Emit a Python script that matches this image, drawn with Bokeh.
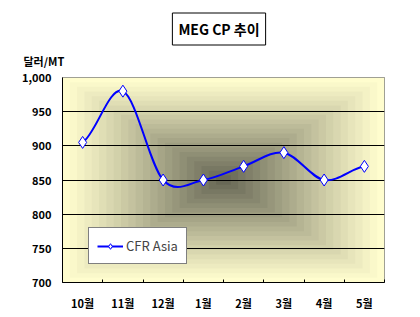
from bokeh.plotting import figure
from bokeh.models import (FixedTicker, NumeralTickFormatter, Label,
                          Legend, LegendItem, Range1d)
from bokeh.embed import file_html
from bokeh.resources import INLINE

# ---- data ----
months = ["10월", "11월", "12월", "1월", "2월", "3월", "4월", "5월"]
cfr_asia = [905, 980, 850, 850, 870, 890, 850, 870]
y_ticks = [700, 750, 800, 850, 900, 950, 1000]
grid_ticks = [750, 800, 850, 900, 950]
title_text = "MEG CP 추이"
unit_text = "달러/MT"
series_name = "CFR Asia"

FONT = "Noto Sans CJK KR"
W, H = 420, 317
FL, FR, FT, FB = 62, 384, 77, 282  # frame edges (canvas px)

n = len(months)
xs = [i + 0.5 for i in range(n)]

p = figure(width=W, height=H, output_backend="svg", toolbar_location=None,
           x_range=Range1d(0, n), y_range=Range1d(700, 1000),
           min_border_left=FL, min_border_right=W - FR,
           min_border_top=FT, min_border_bottom=H - FB,
           title=None)
p.background_fill_color = "#FFFDCC"
p.border_fill_color = "white"
p.outline_line_color = "#808080"
p.outline_line_width = 1
p.styles = {"outline": "1px solid black", "outline-offset": "-5px"}

# ---- rectangular "from centre" gradient background ----
edge = (255, 253, 206)
centre = (104, 104, 86)
N = 22
lefts, rights, tops, bottoms, cols = [], [], [], [], []
cx, cy = n / 2, 850
hw, hh = n / 2, 150
for k in range(N):
    f = 1 - k / N
    t = (k / (N - 1)) ** 1.1
    c = tuple(int(round(edge[j] + (centre[j] - edge[j]) * t)) for j in range(3))
    lefts.append(cx - hw * f); rights.append(cx + hw * f)
    bottoms.append(cy - hh * f); tops.append(cy + hh * f)
    cols.append("#%02x%02x%02x" % c)
p.quad(left=lefts, right=rights, top=tops, bottom=bottoms, fill_color=cols,
       line_color=None, level="image")

# ---- grid ----
p.xgrid.visible = False
p.ygrid.ticker = FixedTicker(ticks=grid_ticks)
p.ygrid.grid_line_color = "black"
p.ygrid.grid_line_width = 1

# ---- smooth line (Catmull-Rom style bezier through the data) ----
x0s, y0s, x1s, y1s, cx0s, cy0s, cx1s, cy1s = [], [], [], [], [], [], [], []
for i in range(n - 1):
    vp = cfr_asia[i - 1] if i > 0 else cfr_asia[i]
    vn = cfr_asia[i + 2] if i + 2 < n else cfr_asia[i + 1]
    x0s.append(xs[i]); y0s.append(cfr_asia[i])
    x1s.append(xs[i + 1]); y1s.append(cfr_asia[i + 1])
    cx0s.append(xs[i] + 1 / 3); cy0s.append(cfr_asia[i] + (cfr_asia[i + 1] - vp) / 6)
    cx1s.append(xs[i + 1] - 1 / 3); cy1s.append(cfr_asia[i + 1] - (vn - cfr_asia[i]) / 6)
curve = p.bezier(x0=x0s, y0=y0s, x1=x1s, y1=y1s, cx0=cx0s, cy0=cy0s, cx1=cx1s, cy1=cy1s,
                 line_color="#0000FF", line_width=2)
pts = p.scatter(xs, cfr_asia, marker="diamond", size=12, fill_color="white",
                line_color="#0000FF", line_width=1)

# ---- axes ----
xa = p.xaxis[0]
xa.ticker = FixedTicker(ticks=xs, minor_ticks=list(range(n + 1)))
xa.major_label_overrides = {x: m for x, m in zip(xs, months)}
xa.major_tick_line_color = None
xa.major_tick_in = 0
xa.major_tick_out = 0
xa.minor_tick_in = 3
xa.minor_tick_out = 0
xa.minor_tick_line_color = "black"
xa.axis_line_color = "black"
xa.major_label_standoff = 12
xa.major_label_text_font = FONT
xa.major_label_text_font_style = "bold"
xa.major_label_text_font_size = "11px"
xa.major_label_text_color = "black"

ya = p.yaxis[0]
ya.ticker = FixedTicker(ticks=y_ticks)
ya.formatter = NumeralTickFormatter(format="0,0")
ya.major_tick_in = 0
ya.major_tick_out = 0
ya.minor_tick_line_color = None
ya.axis_line_color = "black"
ya.major_label_standoff = 11
ya.major_label_text_font = FONT
ya.major_label_text_font_style = "bold"
ya.major_label_text_font_size = "11px"
ya.major_label_text_color = "black"

# ---- legend ----
legend = Legend(items=[LegendItem(label=series_name, renderers=[curve, pts])],
                location=(26, 18), orientation="vertical",
                border_line_color="black", border_line_width=1,
                background_fill_color="white", background_fill_alpha=1,
                label_text_font=FONT, label_text_font_size="13px",
                label_standoff=3, glyph_width=26, glyph_height=14,
                padding=8, margin=0, spacing=0)
p.add_layout(legend, "center")

# ---- title box with shadow and unit label (placed in the top side panel) ----
tcx, tcy = (172 + 265) / 2, (14 + 43) / 2
common = dict(x_units="canvas", y_units="canvas", text_font=FONT,
              text_align="center", text_baseline="middle")
shadow = Label(x=tcx + 2, y=tcy + 2, text=title_text, text_font_style="bold",
               text_font_size="14px", text_alpha=0,
               background_fill_color="black", border_line_color="black", padding=6,
               **common)
title = Label(x=tcx, y=tcy, text=title_text, text_font_style="bold",
              text_font_size="14px", text_color="black",
              background_fill_color="white", border_line_color="black", padding=6,
              **common)
unit = Label(x=23, y=60, text=unit_text, x_units="canvas", y_units="canvas",
             text_font=FONT, text_font_style="bold", text_font_size="11px",
             text_color="black", text_align="left", text_baseline="middle")
p.add_layout(shadow, "above")
p.add_layout(title, "above")
p.add_layout(unit, "above")

open("out.html", "w").write(file_html(p, INLINE))
